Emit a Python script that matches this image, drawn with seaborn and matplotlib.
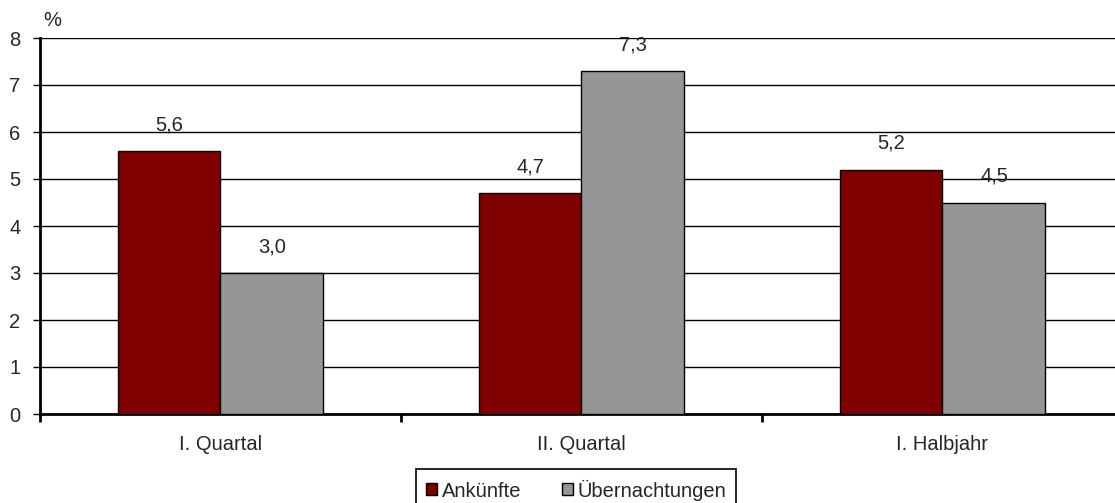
import matplotlib
matplotlib.use("Agg")
import matplotlib.pyplot as plt
import pandas as pd
import seaborn as sns
from matplotlib.ticker import FixedLocator

categories = ["I. Quartal", "II. Quartal", "I. Halbjahr"]
series = ["Ankünfte", "Übernachtungen"]
ankuenfte = [5.6, 4.7, 5.2]
uebernachtungen = [3.0, 7.3, 4.5]
colors = ["#800000", "#969696"]

df = pd.DataFrame({
    "Kategorie": categories * 2,
    "Reihe": [series[0]] * 3 + [series[1]] * 3,
    "Wert": ankuenfte + uebernachtungen,
})

sns.set_theme(style="white")
plt.rcParams["font.family"] = ["Liberation Sans", "DejaVu Sans"]
FS = 14.5

W, H = 1115, 503
fig = plt.figure(figsize=(W / 100, H / 100), dpi=100)
ax = fig.add_axes([40 / W, (H - 414) / H, 1075 / W, 376 / H])

sns.barplot(data=df, x="Kategorie", y="Wert", hue="Reihe", order=categories,
            hue_order=series, palette=colors, width=0.57, gap=0,
            edgecolor="black", linewidth=1, saturation=1, ax=ax, zorder=3)

# Werte ueber den Balken
for cont in ax.containers:
    for bar in cont:
        h = bar.get_height()
        ax.annotate(f"{h:.1f}".replace(".", ","),
                    (bar.get_x() + bar.get_width() / 2, h),
                    xytext=(0, 12), textcoords="offset points",
                    ha="center", va="bottom", fontsize=FS)

ax.set_ylim(0, 8)
ax.set_xlim(-0.5, -0.5 + 1075 / 361)
ax.set_yticks(range(0, 9))
ax.yaxis.grid(True, color="black", linewidth=1)
ax.set_axisbelow(True)
ax.set_xlabel("")
ax.set_ylabel("")

for s in ["top", "right"]:
    ax.spines[s].set_visible(False)
for s in ["left", "bottom"]:
    ax.spines[s].set_color("black")
    ax.spines[s].set_linewidth(2)

ax.tick_params(axis="y", left=True, length=5, width=1, color="black",
               labelsize=FS, pad=9)
ax.tick_params(axis="x", bottom=False, labelsize=FS, pad=9)
ax.xaxis.set_minor_locator(FixedLocator([-0.5, 0.5, 1.5]))
ax.tick_params(axis="x", which="minor", bottom=True, length=6, width=2,
               color="black")

fig.text(52 / W, 1 - 20 / H, "%", fontsize=FS, ha="center", va="center")

handles, labels = ax.get_legend_handles_labels()
ax.legend_.remove()
leg = fig.legend(handles, labels, loc="center",
                 bbox_to_anchor=(576 / W, 1 - 490 / H),
                 ncol=2, frameon=True, fancybox=False, edgecolor="black",
                 fontsize=FS, handlelength=0.55, handleheight=0.55,
                 handletextpad=0.25, columnspacing=2.0, borderpad=0.5,
                 borderaxespad=0, framealpha=1)
leg.get_frame().set_linewidth(1.2)

fig.savefig("out.png", dpi=100)
